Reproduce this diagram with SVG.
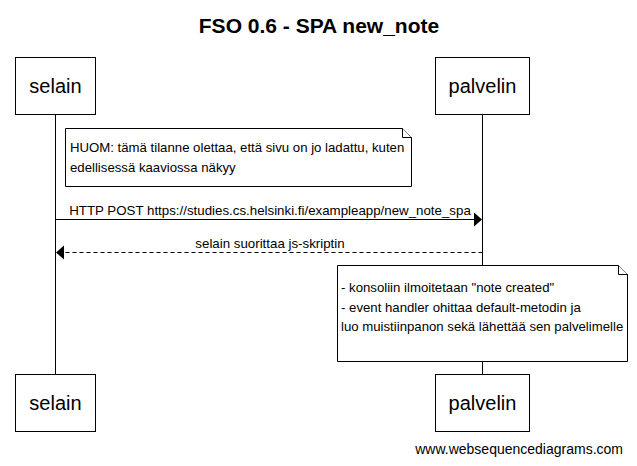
<svg xmlns="http://www.w3.org/2000/svg" width="637" height="466" viewBox="0 0 637 466">
<defs>
<style>
text{font-family:"Liberation Sans",Arial,sans-serif;fill:#000}
.title{font-size:21px;font-weight:bold}
.actor rect{fill:#fff;stroke:#000;stroke-width:1}
.actor text{font-size:20px;text-anchor:middle}
.note path{fill:#fff;stroke:#000;stroke-width:1}
.note text{font-size:13.2px}
.life{stroke:#000;stroke-width:1}
.msg{stroke:#000;stroke-width:1;fill:none}
.dash{stroke-dasharray:4,3}
.lbl{font-size:13.3px;text-anchor:middle}
.wm{font-size:14px;text-anchor:end}
</style>
</defs>
<rect width="637" height="466" fill="#fff"/>
<text class="title" x="319" y="32.5" text-anchor="middle">FSO 0.6 - SPA new_note</text>
<g id="lifelines">
<line class="life" x1="55.5" y1="114.5" x2="55.5" y2="374.5"/>
<line class="life" x1="482.5" y1="114.5" x2="482.5" y2="374.5"/>
</g>
<g id="selain-top" class="actor"><rect x="15.5" y="57.5" width="80" height="57"/><text x="55.5" y="93">selain</text></g>
<g id="palvelin-top" class="actor"><rect x="435.5" y="57.5" width="94" height="57"/><text x="482.5" y="93">palvelin</text></g>
<g id="selain-bottom" class="actor"><rect x="15.5" y="374.5" width="80" height="57"/><text x="55.5" y="410">selain</text></g>
<g id="palvelin-bottom" class="actor"><rect x="435.5" y="374.5" width="94" height="57"/><text x="482.5" y="410">palvelin</text></g>
<g id="note1" class="note">
<path d="M65.5 128.5 H402.5 L411.5 137.5 V186.5 H65.5 Z"/>
<path d="M402.5 128.5 V137.5 H411.5" fill="none"/>
<text x="70" y="152">HUOM: tämä tilanne olettaa, että sivu on jo ladattu, kuten</text>
<text x="70" y="171.5">edellisessä kaaviossa näkyy</text>
</g>
<g id="note2" class="note">
<path d="M337.5 265.5 H618.5 L627.5 274.5 V361.5 H337.5 Z"/>
<path d="M618.5 265.5 V274.5 H627.5" fill="none"/>
<text x="341" y="292">- konsoliin ilmoitetaan "note created"</text>
<text x="341" y="311.5">- event handler ohittaa default-metodin ja</text>
<text x="341" y="331">luo muistiinpanon sekä lähettää sen palvelimelle</text>
</g>
<g id="connectors">
<line class="msg" x1="55.5" y1="219.5" x2="474" y2="219.5"/>
<path d="M474 212.5 L482 219.5 L474 226.5 Z" fill="#000"/>
<text class="lbl" x="270" y="214.5">HTTP POST https://studies.cs.helsinki.fi/exampleapp/new_note_spa</text>
<line class="msg dash" x1="482.5" y1="252.5" x2="64" y2="252.5"/>
<path d="M64 245.5 L56 252.5 L64 259.5 Z" fill="#000"/>
<text class="lbl" x="270" y="248">selain suorittaa js-skriptin</text>
</g>
<text class="wm" x="623" y="454">www.websequencediagrams.com</text>
</svg>
